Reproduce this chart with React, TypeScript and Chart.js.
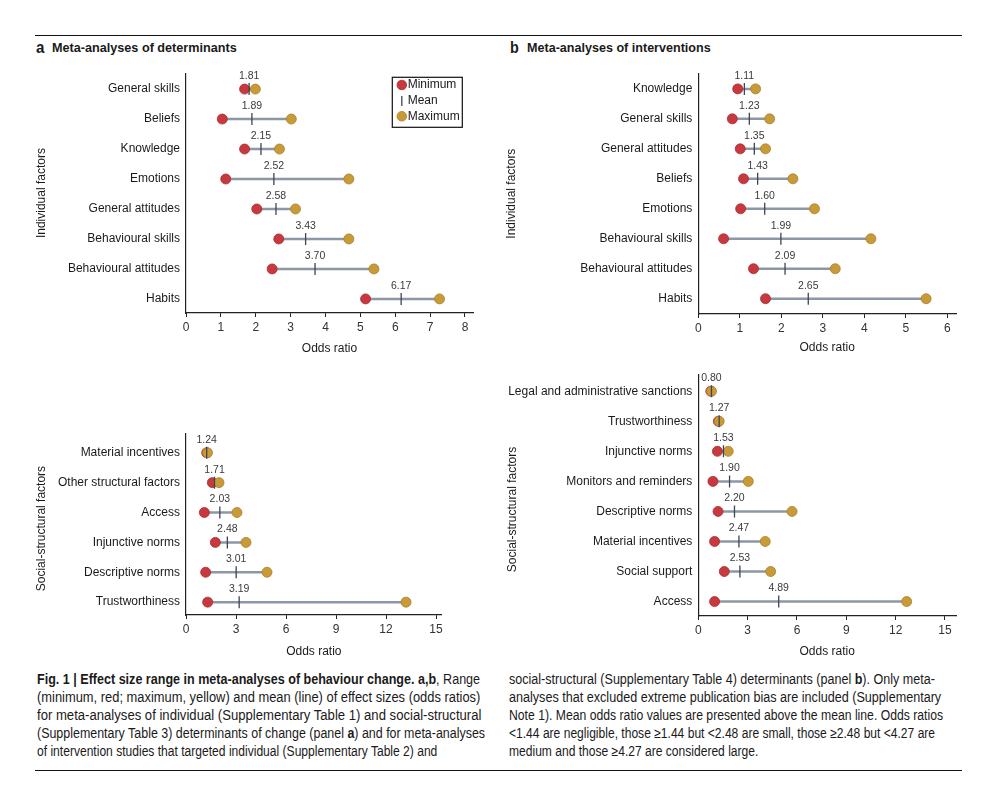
import React, { useEffect, useLayoutEffect, useRef } from "react";
import { Chart, registerables } from "chart.js";

Chart.register(...registerables);

const FONT = "'Liberation Sans', Arial, Helvetica, sans-serif";
Chart.defaults.font.family = FONT;

// ---------- Panel a: determinants, individual factors ----------
const aIndLabels = ["General skills", "Beliefs", "Knowledge", "Emotions", "General attitudes", "Behavioural skills", "Behavioural attitudes", "Habits"];
const aIndMin = [1.68, 1.04, 1.68, 1.14, 2.03, 2.66, 2.47, 5.15];
const aIndMean = [1.81, 1.89, 2.15, 2.52, 2.58, 3.43, 3.7, 6.17];
const aIndMax = [1.99, 3.02, 2.68, 4.67, 3.14, 4.67, 5.39, 7.27];

// ---------- Panel a: determinants, social-structural factors ----------
const aSocLabels = ["Material incentives", "Other structural factors", "Access", "Injunctive norms", "Descriptive norms", "Trustworthiness"];
const aSocMin = [1.24, 1.58, 1.1, 1.76, 1.18, 1.3];
const aSocMean = [1.24, 1.71, 2.03, 2.48, 3.01, 3.19];
const aSocMax = [1.29, 1.98, 3.06, 3.6, 4.86, 13.2];

// ---------- Panel b: interventions, individual factors ----------
const bIndLabels = ["Knowledge", "General skills", "General attitudes", "Beliefs", "Emotions", "Behavioural skills", "Behavioural attitudes", "Habits"];
const bIndMin = [0.95, 0.82, 1.01, 1.09, 1.02, 0.61, 1.33, 1.62];
const bIndMean = [1.11, 1.23, 1.35, 1.43, 1.6, 1.99, 2.09, 2.65];
const bIndMax = [1.38, 1.72, 1.62, 2.28, 2.8, 4.16, 3.3, 5.49];

// ---------- Panel b: interventions, social-structural factors ----------
const bSocLabels = ["Legal and administrative sanctions", "Trustworthiness", "Injunctive norms", "Monitors and reminders", "Descriptive norms", "Material incentives", "Social support", "Access"];
const bSocMin = [0.76, 1.22, 1.16, 0.89, 1.2, 0.99, 1.58, 0.99];
const bSocMean = [0.8, 1.27, 1.53, 1.9, 2.2, 2.47, 2.53, 4.89];
const bSocMax = [0.8, 1.27, 1.82, 3.04, 5.7, 4.07, 4.4, 12.67];

// ---------- Legend & text ----------
const legendItems = ["Minimum", "Mean", "Maximum"];
const xTitle = "Odds ratio";
const headingA = ["a", "Meta-analyses of determinants"];
const headingB = ["b", "Meta-analyses of interventions"];

const RED = "#c8383f";
const RED_EDGE = "#a92c33";
const YEL = "#c99a38";
const YEL_EDGE = "#a98028";
const RANGE = "#8d97a5";
const MEAN = "#3b4656";

type PanelProps = {
  labels: string[];
  mins: number[];
  means: number[];
  maxs: number[];
  yTitle: string;
  left: number;
  top: number;
  width: number;
  height: number;
  padTop: number;
  padRight: number;
  yAxisWidth: number;
  xAxisHeight: number;
  xMax: number;
  xStep: number;
  yMin: number;
  yMax: number;
  yTitleX: number;
  yTitleShift: number;
  xTitlePadBottom: number;
  legend?: boolean;
};

function Panel(p: PanelProps) {
  const ref = useRef<HTMLCanvasElement>(null);
  useEffect(() => {
    const canvas = ref.current;
    if (!canvas) return;
    const datasets: any[] = [];
    datasets.push({
      type: "scatter",
      label: "Mean",
      data: p.means.map((v, i) => ({ x: v, y: i })),
      pointStyle: "line",
      rotation: 90,
      pointRadius: 6,
      borderColor: MEAN,
      backgroundColor: MEAN,
      borderWidth: 1.3,
      order: 0,
    });
    datasets.push({
      type: "scatter",
      label: "Maximum",
      data: p.maxs.map((v, i) => ({ x: v, y: i })),
      pointRadius: 5,
      backgroundColor: YEL,
      borderColor: YEL_EDGE,
      borderWidth: 0.8,
      order: 1,
    });
    datasets.push({
      type: "scatter",
      label: "Minimum",
      data: p.mins.map((v, i) => ({ x: v, y: i })),
      pointRadius: 5,
      backgroundColor: RED,
      borderColor: RED_EDGE,
      borderWidth: 0.8,
      order: 2,
    });
    p.labels.forEach((_, i) => {
      datasets.push({
        type: "scatter",
        label: "range" + i,
        data: [
          { x: p.mins[i], y: i },
          { x: p.maxs[i], y: i },
        ],
        showLine: true,
        pointRadius: 0,
        borderColor: RANGE,
        borderWidth: 2.5,
        order: 3,
      });
    });

    const meanLabelPlugin = {
      id: "meanLabels",
      afterDatasetsDraw(chart: any) {
        const { ctx } = chart;
        const xs = chart.scales.x;
        const ys = chart.scales.y;
        ctx.save();
        ctx.font = `10.5px ${FONT}`;
        ctx.fillStyle = "#3a3a3a";
        ctx.textAlign = "center";
        ctx.textBaseline = "middle";
        p.means.forEach((m, i) => {
          ctx.fillText(m.toFixed(2), xs.getPixelForValue(m), ys.getPixelForValue(i) - 13);
        });
        ctx.restore();
      },
    };

    const yTitlePlugin = {
      id: "yTitle",
      afterDraw(chart: any) {
        const { ctx, chartArea } = chart;
        ctx.save();
        ctx.translate(p.yTitleX, (chartArea.top + chartArea.bottom) / 2 + p.yTitleShift);
        ctx.rotate(-Math.PI / 2);
        ctx.font = `12px ${FONT}`;
        ctx.fillStyle = "#1a1a1a";
        ctx.textAlign = "center";
        ctx.textBaseline = "middle";
        ctx.fillText(p.yTitle, 0, 0);
        ctx.restore();
      },
    };

    const legendPlugin = {
      id: "boxLegend",
      afterDraw(chart: any) {
        if (!p.legend) return;
        const { ctx } = chart;
        const bx = 372.3, by = 17.3, bw = 70, bh = 50;
        ctx.save();
        ctx.strokeStyle = "#111";
        ctx.lineWidth = 1.2;
        ctx.strokeRect(bx, by, bw, bh);
        const cx = 381.8;
        const rows = [25, 41, 56.3];
        ctx.beginPath();
        ctx.arc(cx, rows[0], 4.8, 0, Math.PI * 2);
        ctx.fillStyle = RED;
        ctx.fill();
        ctx.lineWidth = 0.8;
        ctx.strokeStyle = RED_EDGE;
        ctx.stroke();
        ctx.beginPath();
        ctx.moveTo(cx, rows[1] - 5);
        ctx.lineTo(cx, rows[1] + 5);
        ctx.strokeStyle = MEAN;
        ctx.lineWidth = 1.3;
        ctx.stroke();
        ctx.beginPath();
        ctx.arc(cx, rows[2], 4.8, 0, Math.PI * 2);
        ctx.fillStyle = YEL;
        ctx.fill();
        ctx.lineWidth = 0.8;
        ctx.strokeStyle = YEL_EDGE;
        ctx.stroke();
        ctx.fillStyle = "#1a1a1a";
        ctx.font = `12px ${FONT}`;
        ctx.textAlign = "left";
        ctx.textBaseline = "middle";
        legendItems.forEach((t, i) => ctx.fillText(t, 387.7, rows[i]));
        ctx.restore();
      },
    };

    const labels = p.labels;
    const chart = new Chart(canvas, {
      type: "scatter",
      data: { datasets },
      options: {
        animation: false,
        responsive: false,
        events: [],
        layout: { padding: { top: p.padTop, right: p.padRight, left: 0, bottom: 0 } },
        plugins: { legend: { display: false }, tooltip: { enabled: false } },
        scales: {
          x: {
            type: "linear",
            position: "bottom",
            min: 0,
            max: p.xMax,
            ticks: {
              stepSize: p.xStep,
              includeBounds: false,
              color: "#333",
              font: { family: FONT, size: 12 },
              padding: 3,
              maxRotation: 0,
              autoSkip: false,
            },
            grid: { display: true, drawOnChartArea: false, drawTicks: true, tickLength: 4, color: "#222", lineWidth: 1 },
            border: { display: true, color: "#222", width: 1.2 },
            title: {
              display: true,
              text: xTitle,
              color: "#1a1a1a",
              font: { family: FONT, size: 12 },
              padding: { top: 0, bottom: p.xTitlePadBottom },
            },
            afterFit: (s: any) => {
              s.height = p.xAxisHeight;
            },
          },
          y: {
            type: "linear",
            position: "left",
            reverse: true,
            min: p.yMin,
            max: p.yMax,
            afterBuildTicks: (s: any) => {
              s.ticks = labels.map((_, i) => ({ value: i }));
            },
            ticks: {
              callback: (v: any) => labels[Math.round(Number(v))] ?? "",
              color: "#1a1a1a",
              font: { family: FONT, size: 12 },
              padding: 6,
              autoSkip: false,
            },
            grid: { display: true, drawOnChartArea: false, drawTicks: false },
            border: { display: true, color: "#222", width: 1.2 },
            title: { display: false },
            afterFit: (s: any) => {
              s.width = p.yAxisWidth;
            },
          },
        },
      } as any,
      plugins: [meanLabelPlugin, yTitlePlugin, legendPlugin],
    });
    return () => chart.destroy();
  }, []);
  return (
    <canvas
      ref={ref}
      width={p.width}
      height={p.height}
      style={{ position: "absolute", left: p.left, top: p.top, width: p.width, height: p.height }}
    />
  );
}

function FitText(props: { x: number; cy: number; w: number; size: number; weight?: number; children: React.ReactNode; lh?: number }) {
  const ref = useRef<HTMLSpanElement>(null);
  useLayoutEffect(() => {
    const el = ref.current;
    if (!el) return;
    el.style.transform = "none";
    const nat = el.offsetWidth;
    if (nat > 0) el.style.transform = `scaleX(${props.w / nat})`;
  }, [props.w]);
  const lh = props.lh ?? 18;
  return (
    <span
      ref={ref}
      style={{
        position: "absolute",
        left: props.x,
        top: props.cy - lh / 2,
        lineHeight: lh + "px",
        whiteSpace: "nowrap",
        transformOrigin: "0 50%",
        fontFamily: FONT,
        fontSize: props.size,
        fontWeight: props.weight ?? 400,
        color: "#1a1a1a",
      }}
    >
      {props.children}
    </span>
  );
}

export default function App() {
  const B = (s: string) => <b>{s}</b>;
  return (
    <div style={{ position: "fixed", left: 0, top: 0, width: 996, height: 787, background: "#fff", overflow: "hidden" }}>
      <div style={{ position: "absolute", left: 35, top: 35, width: 927, height: 1, background: "#111" }} />
      <div style={{ position: "absolute", left: 35, top: 770, width: 927, height: 1, background: "#111" }} />

      <FitText x={35.5} cy={47.5} w={8.5} size={16} weight={700}>{headingA[0]}</FitText>
      <FitText x={52.3} cy={48} w={185} size={12.5} weight={700}>{headingA[1]}</FitText>
      <FitText x={510} cy={47.5} w={9} size={16} weight={700}>{headingB[0]}</FitText>
      <FitText x={526.7} cy={48} w={184} size={12.5} weight={700}>{headingB[1]}</FitText>

      <Panel labels={aIndLabels} mins={aIndMin} means={aIndMean} maxs={aIndMax} yTitle="Individual factors"
        left={20} top={60} width={463} height={297} padTop={12} padRight={10} yAxisWidth={166} xAxisHeight={44}
        xMax={8.23} xStep={1} yMin={-0.53} yMax={7.47} yTitleX={22} yTitleShift={0} xTitlePadBottom={1} legend />
      <Panel labels={aSocLabels} mins={aSocMin} means={aSocMean} maxs={aSocMax} yTitle="Social-structural factors"
        left={20} top={420} width={432} height={239} padTop={12} padRight={10.3} yAxisWidth={166} xAxisHeight={44}
        xMax={15.34} xStep={3} yMin={-0.655} yMax={5.43} yTitleX={22} yTitleShift={4.5} xTitlePadBottom={0} />
      <Panel labels={bIndLabels} mins={bIndMin} means={bIndMean} maxs={bIndMax} yTitle="Individual factors"
        left={490} top={60} width={476} height={298} padTop={13.3} padRight={10} yAxisWidth={208.3} xAxisHeight={44}
        xMax={6.21} xStep={1} yMin={-0.52} yMax={7.51} yTitleX={22} yTitleShift={0} xTitlePadBottom={2.8} />
      <Panel labels={bSocLabels} mins={bSocMin} means={bSocMean} maxs={bSocMax} yTitle="Social-structural factors"
        left={490} top={360} width={476} height={300} padTop={15} padRight={10} yAxisWidth={208.3} xAxisHeight={44}
        xMax={15.67} xStep={3} yMin={-0.54} yMax={7.48} yTitleX={23} yTitleShift={14} xTitlePadBottom={0.8} />

      <FitText x={36.7} cy={679} w={443} size={14}>
        {B("Fig. 1 | Effect size range in meta-analyses of behaviour change. a,b")}, Range
      </FitText>
      <FitText x={36.7} cy={697.3} w={443} size={14}>
        (minimum, red; maximum, yellow) and mean (line) of effect sizes (odds ratios)
      </FitText>
      <FitText x={36.7} cy={715} w={444} size={14}>
        for meta-analyses of individual (Supplementary Table 1) and social-structural
      </FitText>
      <FitText x={36.7} cy={732.7} w={448} size={14}>
        (Supplementary Table 3) determinants of change (panel {B("a")}) and for meta-analyses
      </FitText>
      <FitText x={36.7} cy={750.7} w={400} size={14}>
        of intervention studies that targeted individual (Supplementary Table 2) and
      </FitText>

      <FitText x={509.3} cy={679} w={425.7} size={14}>
        social-structural (Supplementary Table 4) determinants (panel {B("b")}). Only meta-
      </FitText>
      <FitText x={509.3} cy={697.3} w={432} size={14}>
        analyses that excluded extreme publication bias are included (Supplementary
      </FitText>
      <FitText x={509.3} cy={715} w={434} size={14}>
        Note 1). Mean odds ratio values are presented above the mean line. Odds ratios
      </FitText>
      <FitText x={509.3} cy={732.7} w={425.7} size={14}>
        {"<1.44 are negligible, those ≥1.44 but <2.48 are small, those ≥2.48 but <4.27 are"}
      </FitText>
      <FitText x={509.3} cy={750.7} w={249} size={14}>
        medium and those ≥4.27 are considered large.
      </FitText>
    </div>
  );
}
